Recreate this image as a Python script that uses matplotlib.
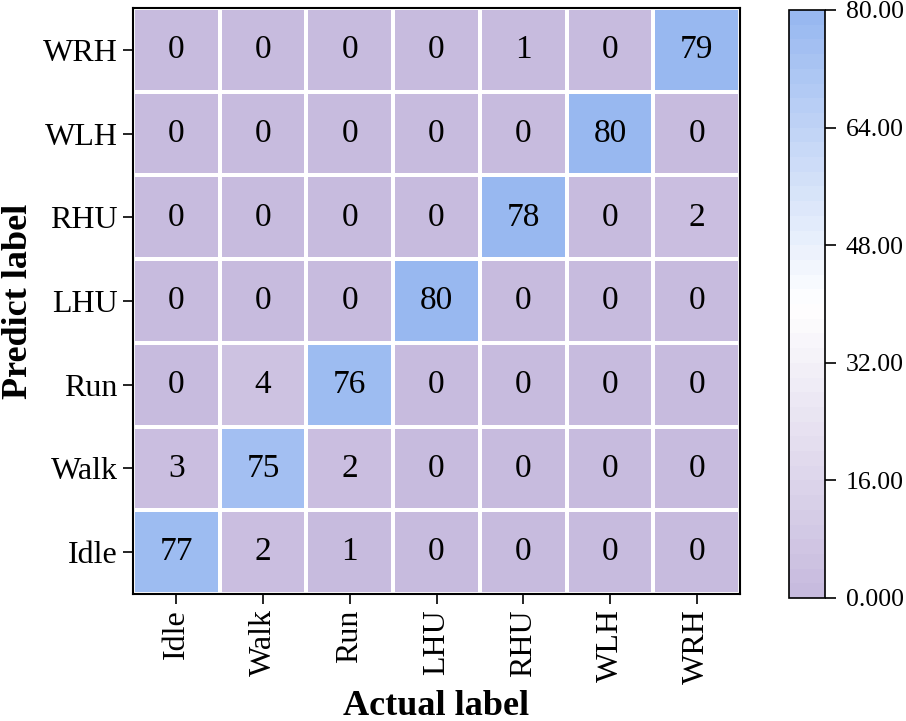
import numpy as np
import matplotlib
matplotlib.use("Agg")
import matplotlib.pyplot as plt
from matplotlib.colors import LinearSegmentedColormap

plt.rcParams['font.family'] = ['Liberation Serif', 'DejaVu Serif']

actual_labels = ['Idle', 'Walk', 'Run', 'LHU', 'RHU', 'WLH', 'WRH']
predict_labels = ['Idle', 'Walk', 'Run', 'LHU', 'RHU', 'WLH', 'WRH']

# rows = predicted (Idle at bottom), cols = actual
row_idle = [77, 2, 1, 0, 0, 0, 0]
row_walk = [3, 75, 2, 0, 0, 0, 0]
row_run = [0, 4, 76, 0, 0, 0, 0]
row_lhu = [0, 0, 0, 80, 0, 0, 0]
row_rhu = [0, 0, 0, 0, 78, 0, 2]
row_wlh = [0, 0, 0, 0, 0, 80, 0]
row_wrh = [0, 0, 0, 0, 1, 0, 79]

cbar_ticks = [0, 16, 32, 48, 64, 80]
cbar_labels = ['0.000', '16.00', '32.00', '48.00', '64.00', '80.00']

cm = np.array([row_idle, row_walk, row_run, row_lhu, row_rhu, row_wlh, row_wrh])

cmap = LinearSegmentedColormap.from_list(
    'pw', ['#c7bbde', '#ffffff', '#98b8f0'], N=40)

fig = plt.figure(figsize=(9.06, 7.21), dpi=100)
ax = fig.add_axes([133 / 906, 1 - 594 / 721, (740 - 133) / 906, (594 - 8) / 721])
cax = fig.add_axes([789 / 906, 1 - 598 / 721, (825 - 789) / 906, (598 - 10) / 721])

n = len(actual_labels)
mesh = ax.pcolormesh(np.arange(n + 1), np.arange(n + 1), cm, cmap=cmap,
                     vmin=0, vmax=80, edgecolor='white', linewidth=1.5)

for i in range(n):
    for j in range(n):
        ax.text(j + 0.5, i + 0.5, str(cm[i, j]), ha='center', va='center',
                fontsize=24, color='black')

ax.set_xlim(0, n)
ax.set_ylim(0, n)
ax.set_xticks(np.arange(n) + 0.5)
ax.set_xticklabels(actual_labels, rotation=90, fontsize=23)
ax.set_yticks(np.arange(n) + 0.5)
ax.set_yticklabels(predict_labels, fontsize=23)
ax.tick_params(length=7, width=1.2, pad=4)
for s in ax.spines.values():
    s.set_linewidth(1.5)
ax.set_xlabel('Actual label', fontsize=26, fontweight='bold', labelpad=4)
ax.set_ylabel('Predict label', fontsize=26, fontweight='bold', labelpad=6)

cb = fig.colorbar(mesh, cax=cax, ticks=cbar_ticks)
cb.ax.set_yticklabels(cbar_labels, fontsize=18.5)
cb.ax.tick_params(length=8, width=1.2, pad=7)
cb.outline.set_linewidth(1.2)

fig.savefig('out.png', dpi=100)
